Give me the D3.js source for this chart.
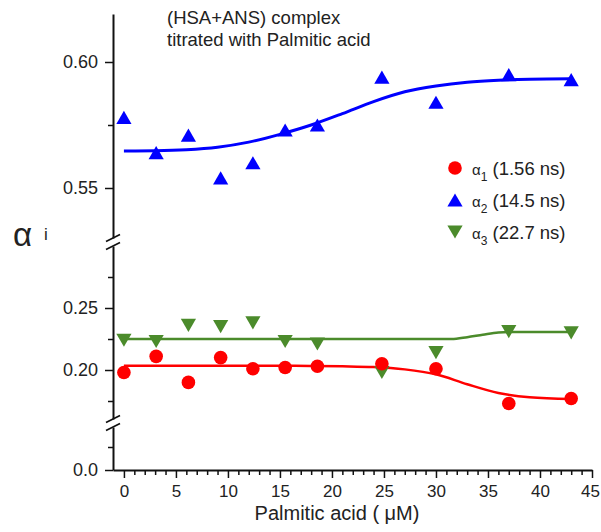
<!DOCTYPE html>
<html>
<head>
<meta charset="utf-8">
<script src="https://cdn.jsdelivr.net/npm/d3@7"></script>
<style>
  body { margin: 0; background: #fff; }
  svg { font-family: "Liberation Sans", Arial, sans-serif; }
  .axis path, .axis line { stroke: #111; }
  .axis text { fill: #222; font-size: 18px; }
  .axis.xa text { font-size: 17px; }
</style>
</head>
<body>
<div id="chart-area"></div>
<script>
// palmitic acid concentration (uM)
const conc = [0, 3.1, 6.2, 9.3, 12.4, 15.5, 18.6, 24.8, 30, 37, 43]
const alpha1 = [0.198, 0.211, 0.190, 0.210, 0.201, 0.202, 0.203, 0.205, 0.201, 0.173, 0.177]
const alpha2 = [0.578, 0.564, 0.571, 0.554, 0.560, 0.573, 0.575, 0.594, 0.584, 0.595, 0.593]
const alpha3 = [0.224, 0.223, 0.236, 0.235, 0.238, 0.223, 0.221, 0.198, 0.214, 0.231, 0.230]

// fitted curves
const fitX = [0, 3, 6, 9, 12, 15, 18, 21, 24, 27, 30, 33, 36, 39, 43]
const fit1 = [0.2035, 0.2035, 0.2035, 0.2035, 0.2035, 0.2034, 0.2033, 0.2030, 0.2024, 0.2005, 0.1965, 0.1885, 0.1815, 0.1780, 0.1766]
const fit2 = [0.5647, 0.5648, 0.5652, 0.5662, 0.5682, 0.5713, 0.5750, 0.5795, 0.5843, 0.5882, 0.5905, 0.5920, 0.5928, 0.5932, 0.5934]
const fit3X = [0, 10, 20, 31.5, 33, 34.5, 36, 37, 43]
const fit3 = [0.225, 0.225, 0.225, 0.225, 0.2265, 0.2285, 0.2303, 0.2306, 0.2306]

const xTicks = [0, 5, 10, 15, 20, 25, 30, 35, 40, 45]
const upTicks = [0.55, 0.60]
const upMinor = [0.575]
const lowTicks = [0.20, 0.25]
const lowMinor = [0.175, 0.225, 0.275]
const botTicks = [0.0]
const botMinor = [0.025]

const legendItems = [
  { sub: "1", label: " (1.56 ns)", color: "#ff0000", shape: "circle" },
  { sub: "2", label: " (14.5 ns)", color: "#0000ff", shape: "up" },
  { sub: "3", label: " (22.7 ns)", color: "#4b8b2b", shape: "down" }
]

const WIDTH = 601, HEIGHT = 532
const AX = 113, AY = 470

const svg = d3.select("#chart-area").append("svg")
  .attr("width", WIDTH)
  .attr("height", HEIGHT)

const x = d3.scaleLinear().domain([-1.05, 45]).range([AX, 592])

// three pieces of the broken y axis
const segment = (d0, d1, r0, r1, top, bottom) => {
  const s = d3.scaleLinear().domain([d0, d1]).range([r0, r1])
  return s.copy().domain([s.invert(bottom), s.invert(top)]).range([bottom, top])
}
const yUp = segment(0.55, 0.60, 188, 62, 14, 238)
const yLow = segment(0.20, 0.25, 370, 308, 246, 419)
const yBot = segment(0.0, 0.05, 470, 424, 427, 470)

// x axis
svg.append("g").attr("class", "axis")
  .attr("transform", `translate(0, ${AY})`)
  .call(d3.axisBottom(x).tickValues(d3.range(0, 46).filter(v => v % 5 !== 0))
    .tickSize(5).tickSizeOuter(0).tickFormat(""))
  .call(g => g.select(".domain").attr("stroke-width", 2))
  .selectAll("line").attr("stroke-width", 1.5)

svg.append("g").attr("class", "axis xa")
  .attr("transform", `translate(0, ${AY})`)
  .call(d3.axisBottom(x).tickValues(xTicks).tickSize(8).tickSizeOuter(0).tickPadding(7))
  .call(g => g.select(".domain").remove())
  .call(g => g.selectAll("line").attr("stroke-width", 1.5))
  .call(g => g.selectAll("text").filter(d => d === 45).attr("dx", -2))

// y axis segments
const yAxis = (scale, major, minor, fmt) => {
  svg.append("g").attr("class", "axis")
    .attr("transform", `translate(${AX}, 0)`)
    .call(d3.axisLeft(scale).tickValues(minor).tickSize(5).tickSizeOuter(0).tickFormat(""))
    .call(g => g.select(".domain").attr("stroke-width", 2))
    .selectAll("line").attr("stroke-width", 1.5)
  svg.append("g").attr("class", "axis")
    .attr("transform", `translate(${AX}, 0)`)
    .call(d3.axisLeft(scale).tickValues(major).tickSize(8).tickSizeOuter(0).tickPadding(7).tickFormat(fmt))
    .call(g => g.select(".domain").remove())
    .call(g => g.selectAll("line").attr("stroke-width", 1.5))
}
yAxis(yUp, upTicks, upMinor, d3.format(".2f"))
yAxis(yLow, lowTicks, lowMinor, d3.format(".2f"))
yAxis(yBot, botTicks, botMinor, d3.format(".1f"))

// break marks
const breaks = [238, 246, 419, 427]
svg.selectAll(".brk").data(breaks).enter().append("line")
  .attr("class", "brk")
  .attr("x1", AX - 7).attr("y1", d => d + 3.5)
  .attr("x2", AX + 7).attr("y2", d => d - 3.5)
  .attr("stroke", "#111").attr("stroke-width", 1.6)

// fitted lines
const drawFit = (xs, ys, scale, color, w) => {
  const line = d3.line()
    .x((d, i) => x(xs[i]))
    .y(d => scale(d))
    .curve(d3.curveMonotoneX)
  svg.append("path").datum(ys)
    .attr("fill", "none")
    .attr("stroke", color)
    .attr("stroke-width", w)
    .attr("d", line)
}
drawFit(fitX, fit2, yUp, "#0000ff", 3)
drawFit(fit3X, fit3, yLow, "#4b8b2b", 2.5)
drawFit(fitX, fit1, yLow, "#ff0000", 2.5)

// markers
const triH = 13
const tri = d3.symbol().type(d3.symbolTriangle).size(100)

const marker = (g, shape, color, px, py) => {
  if (shape === "circle") {
    g.append("circle").attr("cx", px).attr("cy", py).attr("r", 6.8).attr("fill", color)
  } else if (shape === "up") {
    g.append("path").attr("d", tri())
      .attr("transform", `translate(${px}, ${py + triH / 6})`).attr("fill", color)
  } else {
    g.append("path").attr("d", tri())
      .attr("transform", `translate(${px}, ${py - triH / 6}) rotate(180)`).attr("fill", color)
  }
}

const pts = svg.append("g")
conc.forEach((c, i) => marker(pts, "down", "#4b8b2b", x(c), yLow(alpha3[i])))
conc.forEach((c, i) => marker(pts, "circle", "#ff0000", x(c), yLow(alpha1[i])))
conc.forEach((c, i) => marker(pts, "up", "#0000ff", x(c), yUp(alpha2[i])))

// legend
const legend = svg.append("g")
legendItems.forEach((d, i) => {
  const ly = 168 + i * 32
  marker(legend, d.shape, d.color, 455, ly)
  const t = legend.append("text")
    .attr("x", 472).attr("y", ly + 7)
    .attr("fill", "#222")
  t.append("tspan").attr("font-size", "15px").text("\u03b1")
  t.append("tspan").attr("font-size", "12px").attr("dy", 6).text(d.sub)
  t.append("tspan").attr("font-size", "18.5px").attr("dy", -6).text(d.label)
})

// annotation
const note = svg.append("text").attr("fill", "#222").attr("font-size", "18.5px")
note.append("tspan").attr("x", 167).attr("y", 24).text("(HSA+ANS) complex")
note.append("tspan").attr("x", 167).attr("y", 46).text("titrated with Palmitic acid")

// axis labels
svg.append("text")
  .attr("x", 337).attr("y", 520)
  .attr("text-anchor", "middle")
  .attr("font-size", "20px")
  .attr("fill", "#222")
  .text("Palmitic acid ( \u03bcM)")

const yl = svg.append("text").attr("x", 13).attr("y", 246).attr("fill", "#222")
yl.append("tspan").attr("font-size", "33px").text("\u03b1")
yl.append("tspan").attr("font-size", "17px").attr("dx", 12).attr("dy", -6).text("i")
</script>
</body>
</html>
